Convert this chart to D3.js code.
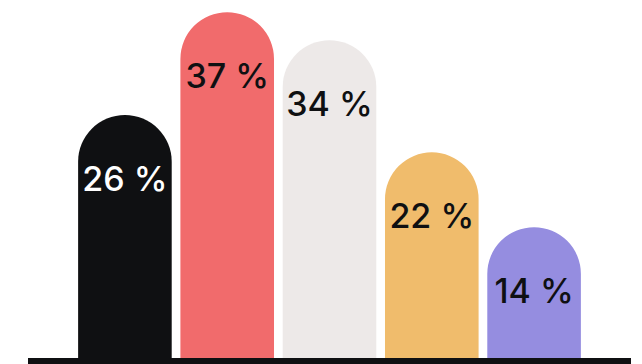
<!DOCTYPE html>
<html>
<head>
<meta charset="utf-8">
<script src="https://cdn.jsdelivr.net/npm/d3@7"></script>
<style>
  html, body { margin: 0; padding: 0; background: #ffffff; }
  svg { display: block; }
</style>
</head>
<body>
<svg id="chart" width="642" height="364"></svg>
<script>
const categories = ["A", "B", "C", "D", "E"];
const values = [26, 37, 34, 22, 14];
const labels = ["26 %", "37 %", "34 %", "22 %", "14 %"];
const colors = ["#0f1012", "#f16b6c", "#ede9e8", "#f0bc6c", "#958de0"];
const labelColors = ["#ffffff", "#0f1012", "#0f1012", "#0f1012", "#0f1012"];

const svg = d3.select("#chart");
const baseY = 358;

const x = d3.scaleBand().domain(categories).range([73, 586]).paddingInner(0.085).paddingOuter(0.05);
const y = d3.scaleLinear().domain([0, 38.3]).range([baseY, 0]);

const bw = x.bandwidth();
const r = bw / 2;

function barPath(d, i) {
  const x0 = x(categories[i]);
  const top = y(d);
  const x1 = x0 + bw;
  return `M${x0},${baseY} L${x0},${top + r} A${r},${r} 0 0 1 ${x1},${top + r} L${x1},${baseY} Z`;
}

svg.selectAll("path.bar")
  .data(values)
  .join("path")
  .attr("class", "bar")
  .attr("d", barPath)
  .attr("fill", (d, i) => colors[i]);

svg.selectAll("text.lbl")
  .data(values)
  .join("text")
  .attr("class", "lbl")
  .attr("x", (d, i) => x(categories[i]) + bw / 2)
  .attr("y", d => y(d) + 76)
  .attr("text-anchor", "middle")
  .attr("font-family", "Inter, 'Noto Sans', sans-serif")
  .attr("font-weight", 500)
  .attr("font-size", 34)
  .attr("fill", (d, i) => labelColors[i])
  .text((d, i) => labels[i]);

// baseline
svg.append("line")
  .attr("x1", 28).attr("x2", 631)
  .attr("y1", baseY + 3).attr("y2", baseY + 3)
  .attr("stroke", "#0f1012")
  .attr("stroke-width", 6);
</script>
</body>
</html>
